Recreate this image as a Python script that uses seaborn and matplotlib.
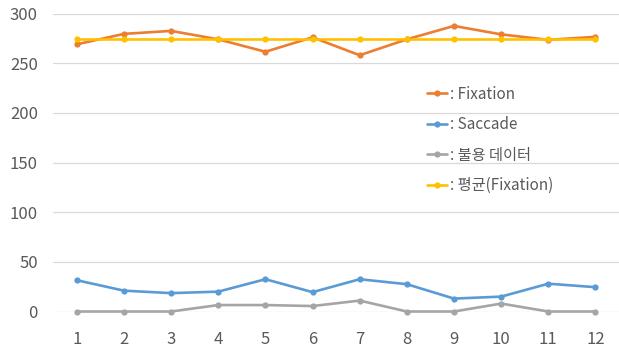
import matplotlib
matplotlib.use("Agg")
import matplotlib.pyplot as plt
import seaborn as sns
import pandas as pd

# Per-trial measurements
trials = list(range(1, 13))
fixation = [269, 279.5, 282.5, 274, 261.5, 276, 258, 274, 287.5, 279, 273.5, 276.5]
saccade = [31.5, 21, 18.5, 20, 32.5, 19.5, 32.5, 27.5, 13, 15, 28, 24.5]
unused = [0, 0, 0, 6.5, 6.5, 5.5, 11, 0, 0, 8, 0, 0]
fixation_mean = [274] * 12

series_names = [": Fixation", ": Saccade", ": 불용 데이터", ": 평균(Fixation)"]
series_values = [fixation, saccade, unused, fixation_mean]
palette = ["#ED7D31", "#5B9BD5", "#A5A5A5", "#FFC000"]
y_ticks = [0, 50, 100, 150, 200, 250, 300]

df = pd.concat(
    [pd.DataFrame({"trial": trials, "value": vals, "series": name})
     for name, vals in zip(series_names, series_values)],
    ignore_index=True,
)

sns.set_theme(style="white")
plt.rcParams["font.family"] = ["Noto Sans CJK KR", "DejaVu Sans"]

fig = plt.figure(figsize=(6.19, 3.51), dpi=100)
ax = fig.add_axes([0.086, 0.1125, 0.914, 0.849])

sns.lineplot(
    data=df, x="trial", y="value", hue="series", hue_order=series_names,
    palette=palette, marker="o", markersize=4.5, markeredgewidth=0,
    linewidth=1.9, ax=ax, clip_on=False,
)

ax.set_xlim(0.5, 12.5)
ax.set_ylim(0, 300)
ax.set_xticks(trials)
ax.set_yticks(y_ticks)
ax.set_xlabel("")
ax.set_ylabel("")
ax.grid(axis="y", color="#D9D9D9", linewidth=0.9)
ax.set_axisbelow(True)
for s in ax.spines.values():
    s.set_visible(False)
ax.tick_params(axis="both", length=0, labelsize=12, labelcolor="#595959")
ax.tick_params(axis="y", pad=11)
ax.tick_params(axis="x", pad=14)

leg = ax.legend(
    loc="upper left", bbox_to_anchor=(0.66, 0.758), frameon=False,
    fontsize=11, handlelength=1.35, handletextpad=0.15, labelspacing=0.88,
    borderaxespad=0, borderpad=0,
)
for t in leg.get_texts():
    t.set_color("#595959")

fig.savefig("out.png", dpi=100)
